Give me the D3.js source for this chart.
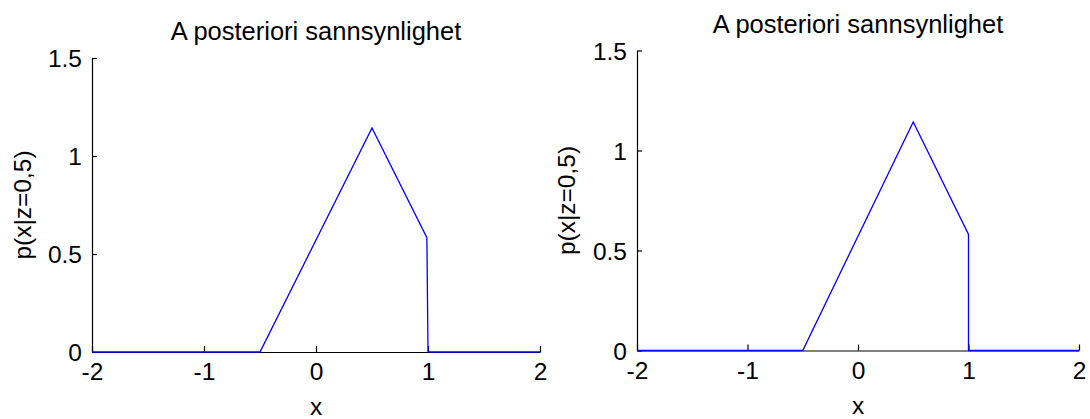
<!DOCTYPE html>
<html>
<head>
<meta charset="utf-8">
<script src="https://cdn.jsdelivr.net/npm/d3@7"></script>
<style>
  body { margin: 0; background: #fff; }
  svg { display: block; font-family: "Liberation Sans", Arial, sans-serif; }
</style>
</head>
<body>
<svg id="drawing_region" width="1090" height="419"></svg>
<script>
// verdier lest av bildet (hjørnepunktene til kurvene)
const xTicks = [-2, -1, 0, 1, 2];
const yTicks = [0, 0.5, 1, 1.5];
const titleText = 'A posteriori sannsynlighet';
const yLabelText = 'p(x|z=0,5)';
const xLabelText = 'x';

const leftX = [-2, -0.5, 0.5, 0.99, 1.0, 2];
const leftY = [0, 0, 1.143, 0.583, 0, 0];
const rightX = [-2, -0.5, 0.5, 1.0, 1.0, 2];
const rightY = [0, 0, 1.143, 0.58, 0, 0];

class PosteriorPlot {
  constructor(config, xs, ys) {
    this.config = config;
    this.data = xs.map((x, i) => ({x: x, y: ys[i]}));
    this.init();
  }
  init() {
    let self = this;
    let c = self.config;
    self.svg = d3.select('#drawing_region');
    self.chart = self.svg.append('g')
      .attr('transform', `translate(${c.left}, ${c.top})`);

    self.xscale = d3.scaleLinear().domain([-2, 2]).range([0, c.width]);
    self.yscale = d3.scaleLinear().domain([0, 1.5]).range([c.height, 0]);

    self.xaxis = d3.axisBottom(self.xscale)
      .tickValues(xTicks)
      .tickFormat(d => String(d))
      .tickSizeInner(-6)
      .tickSizeOuter(0)
      .tickPadding(11);
    self.yaxis = d3.axisLeft(self.yscale)
      .tickValues(yTicks)
      .tickFormat(d => String(d))
      .tickSizeInner(-5)
      .tickSizeOuter(0)
      .tickPadding(10);
  }
  render() {
    let self = this;
    let c = self.config;

    let xg = self.chart.append('g')
      .attr('transform', `translate(0, ${c.height})`)
      .call(self.xaxis);
    let yg = self.chart.append('g').call(self.yaxis);

    [xg, yg].forEach(g => {
      g.selectAll('path, line').attr('stroke', '#000').attr('stroke-width', 1.2);
      g.selectAll('text')
        .attr('fill', '#000')
        .style('font-size', '24.5px')
        .style('font-family', '"Liberation Sans", Arial, sans-serif');
    });
    yg.selectAll('text').attr('dy', '0.36em');

    const line = d3.line()
      .x(d => self.xscale(d.x))
      .y(d => self.yscale(d.y));

    self.chart.append('path')
      .datum(self.data)
      .attr('d', line)
      .attr('fill', 'none')
      .attr('stroke', '#0000ff')
      .attr('stroke-width', 1.3);

    self.chart.append('text')
      .attr('x', c.width / 2)
      .attr('y', c.titleY)
      .attr('text-anchor', 'middle')
      .style('font-size', '25.5px')
      .text(titleText);

    self.chart.append('text')
      .attr('x', c.width / 2)
      .attr('y', c.height + 63)
      .attr('text-anchor', 'middle')
      .style('font-size', '24.5px')
      .text(xLabelText);

    self.chart.append('text')
      .attr('transform', `translate(${c.ylabelX}, ${c.height / 2}) rotate(-90)`)
      .attr('text-anchor', 'middle')
      .style('font-size', '24.5px')
      .text(yLabelText);
  }
}

const leftPlot = new PosteriorPlot(
  {left: 92, top: 58, width: 448, height: 294, titleY: -18, ylabelX: -61}, leftX, leftY);
leftPlot.render();

const rightPlot = new PosteriorPlot(
  {left: 637, top: 50.5, width: 442, height: 300, titleY: -17.5, ylabelX: -62}, rightX, rightY);
rightPlot.render();
</script>
</body>
</html>
